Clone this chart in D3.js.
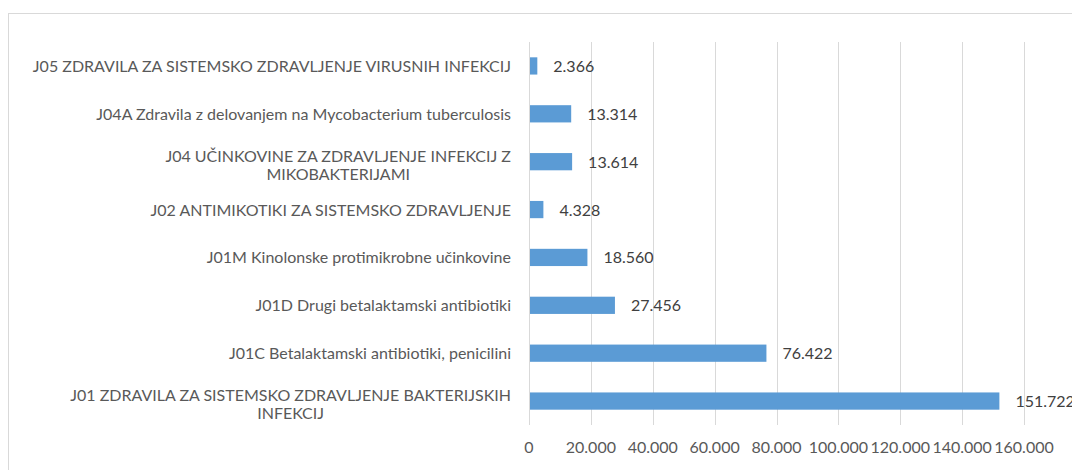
<!DOCTYPE html>
<html>
<head>
<meta charset="utf-8">
<script src="https://cdn.jsdelivr.net/npm/d3@7"></script>
<style>
  html, body { margin: 0; padding: 0; background: #fff; }
  svg { display: block; font-family: Lato, "Open Sans", sans-serif; }
</style>
</head>
<body>
<div id="chart"></div>
<script>
// categories top to bottom, each an array of wrapped lines
const categories = [
  ['J05 ZDRAVILA ZA SISTEMSKO ZDRAVLJENJE VIRUSNIH INFEKCIJ'],
  ['J04A Zdravila z delovanjem na Mycobacterium tuberculosis'],
  ['J04 UČINKOVINE ZA ZDRAVLJENJE INFEKCIJ Z', 'MIKOBAKTERIJAMI'],
  ['J02 ANTIMIKOTIKI ZA SISTEMSKO ZDRAVLJENJE'],
  ['J01M Kinolonske protimikrobne učinkovine'],
  ['J01D Drugi betalaktamski antibiotiki'],
  ['J01C Betalaktamski antibiotiki, penicilini'],
  ['J01 ZDRAVILA ZA SISTEMSKO ZDRAVLJENJE BAKTERIJSKIH', 'INFEKCIJ'],
];
const values = [2366, 13314, 13614, 4328, 18560, 27456, 76422, 151722];
const valueLabels = ['2.366', '13.314', '13.614', '4.328', '18.560', '27.456', '76.422', '151.722'];
const tickValues = [0, 20000, 40000, 60000, 80000, 100000, 120000, 140000, 160000];
const tickLabels = ['0', '20.000', '40.000', '60.000', '80.000', '100.000', '120.000', '140.000', '160.000'];

const width = 1072, height = 470;
const plot = { left: 529, right: 1024, top: 42, bottom: 425 };
const textColor = '#595959';
const fontSize = 16;

const svg = d3.select('#chart').append('svg')
  .attr('width', width).attr('height', height);

// chart border (runs past the right/bottom edge of the window)
svg.append('rect')
  .attr('x', 8.5).attr('y', 13.5)
  .attr('width', 1200).attr('height', 600)
  .attr('fill', 'none').attr('stroke', '#d9d9d9').attr('stroke-width', 1);

const x = d3.scaleLinear().domain([0, 160000]).range([plot.left, plot.right]);
const y = d3.scaleBand().domain(d3.range(categories.length))
  .range([plot.top, plot.bottom]).paddingInner(0.64).paddingOuter(0.32);

// gridlines
svg.append('g').selectAll('line')
  .data(tickValues).join('line')
  .attr('x1', d => Math.round(x(d)) + 0.5).attr('x2', d => Math.round(x(d)) + 0.5)
  .attr('y1', plot.top).attr('y2', plot.bottom)
  .attr('stroke', '#d9d9d9').attr('stroke-width', 1);

// tick labels
svg.append('g').selectAll('text')
  .data(tickValues).join('text')
  .attr('x', d => x(d)).attr('y', 453)
  .attr('text-anchor', 'middle')
  .attr('fill', textColor).attr('font-size', fontSize)
  .text((d, i) => tickLabels[i]);

// bars
svg.append('g').selectAll('rect')
  .data(values).join('rect')
  .attr('x', x(0) + 1)
  .attr('y', (d, i) => y(i))
  .attr('width', d => x(d) - x(0))
  .attr('height', y.bandwidth())
  .attr('fill', '#5b9bd5');

// value labels
svg.append('g').selectAll('text')
  .data(values).join('text')
  .attr('x', d => x(d) + 17)
  .attr('y', (d, i) => y(i) + y.bandwidth() / 2 + 6)
  .attr('fill', '#404040').attr('font-size', fontSize)
  .text((d, i) => valueLabels[i]);

// category labels: block right-aligned, wrapped lines centred in the block
const labelRight = 511;
const lineH = 18;
const cat = svg.append('g');
categories.forEach((lines, i) => {
  const g = cat.append('g');
  const cy = y(i) + y.bandwidth() / 2;
  const texts = lines.map((line, j) => g.append('text')
    .attr('y', cy + 6 + (j - (lines.length - 1) / 2) * lineH + (lines.length > 1 ? 3 : 0))
    .attr('fill', textColor).attr('font-size', fontSize)
    .attr('text-anchor', 'middle')
    .text(line));
  const w = d3.max(texts, t => t.node().getComputedTextLength());
  texts.forEach(t => t.attr('x', labelRight - w / 2));
});
</script>
</body>
</html>
